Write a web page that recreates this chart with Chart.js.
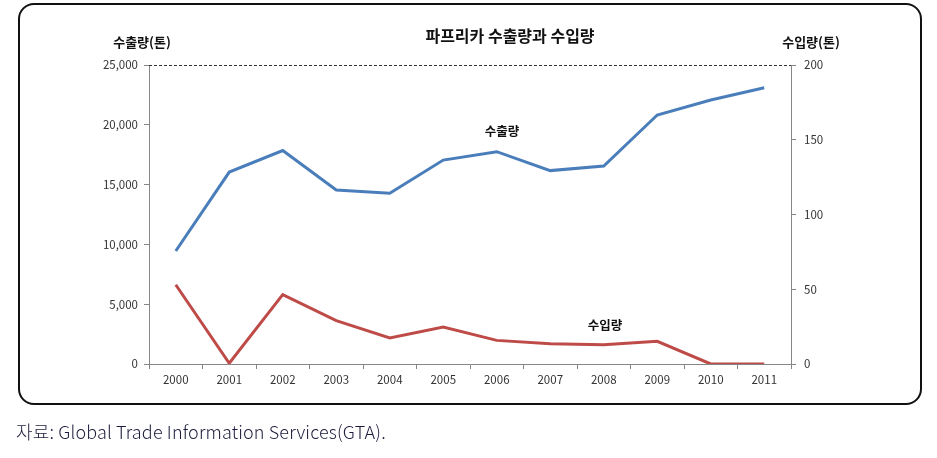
<!DOCTYPE html>
<html>
<head>
<meta charset="utf-8">
<script src="https://cdn.jsdelivr.net/npm/chart.js@4"></script>
<style>
  body { margin: 0; background: #fff; }
  #wrap { position: relative; width: 937px; height: 458px; }
  #box {
    position: absolute; left: 18px; top: 3px; width: 900px; height: 398px;
    border: 2px solid #111; border-radius: 16px;
  }
  #src {
    position: absolute; left: 16px; top: 418px;
    font-family: "Noto Sans CJK KR", sans-serif; font-size: 18px; color: #1c1c3c;
    font-weight: 300; letter-spacing: 0.15px;
  }
  canvas { position: absolute; left: 0; top: 0; }
</style>
</head>
<body>
<div id="wrap">
  <div id="box"></div>
  <canvas id="chart" width="937" height="458"></canvas>
  <div id="src">자료: Global Trade Information Services(GTA).</div>
</div>
<script>
const years = ['2000', '2001', '2002', '2003', '2004', '2005', '2006', '2007', '2008', '2009', '2010', '2011'];
// 수출량 (톤), left axis
const exportTons = [9450, 16050, 17850, 14550, 14270, 17050, 17750, 16170, 16550, 20820, 22070, 23100];
// 수입량 (톤), right axis
const importTons = [53, 0.5, 46.4, 29, 17.4, 24.7, 15.8, 13.6, 12.9, 15.2, 0, 0];
const leftTicks = [0, 5000, 10000, 15000, 20000, 25000];
const rightTicks = [0, 50, 100, 150, 200];

const font = '"Noto Sans CJK KR", sans-serif';

// title, axis titles, series labels and the dashed top line
const extras = {
  id: 'extras',
  afterDraw(chart) {
    const c = chart.ctx;
    const a = chart.chartArea;
    c.save();
    c.strokeStyle = '#333';
    c.lineWidth = 1;
    c.setLineDash([3, 2]);
    c.beginPath();
    c.moveTo(a.left, a.top + 0.5);
    c.lineTo(a.right, a.top + 0.5);
    c.stroke();
    c.setLineDash([]);

    c.fillStyle = '#111';
    c.textAlign = 'center';
    c.textBaseline = 'middle';
    c.font = 'bold 16px ' + font;
    c.fillText('파프리카 수출량과 수입량', 510, 36);
    c.font = 'bold 13px ' + font;
    c.fillText('수출량(톤)', 142, 42);
    c.fillText('수입량(톤)', 811, 42);
    c.font = 'bold 12.5px ' + font;
    c.fillText('수출량', 502, 131);
    c.fillText('수입량', 605, 325);
    c.restore();
  }
};

new Chart(document.getElementById('chart'), {
  type: 'line',
  data: {
    labels: years,
    datasets: [{
      label: '수출량',
      data: exportTons,
      yAxisID: 'y',
      borderColor: '#4a7ebb',
      borderWidth: 3,
      pointRadius: 0,
      tension: 0
    }, {
      label: '수입량',
      data: importTons,
      yAxisID: 'y1',
      borderColor: '#be4b48',
      borderWidth: 3,
      pointRadius: 0,
      tension: 0
    }]
  },
  options: {
    responsive: false,
    animation: false,
    layout: { padding: { top: 65, bottom: 62, left: 0, right: 0 } },
    plugins: { legend: { display: false }, tooltip: { enabled: false } },
    scales: {
      x: {
        offset: true,
        grid: { offset: true, drawOnChartArea: false, tickLength: 5, color: '#868686' },
        border: { color: '#868686' },
        ticks: { color: '#333', font: { family: font, size: 11.5 }, padding: 4 },
        afterFit: s => { s.height = 32; }
      },
      y: {
        position: 'left',
        min: 0, max: 25000,
        afterBuildTicks: s => { s.ticks = leftTicks.map(v => ({ value: v })); },
        grid: { drawOnChartArea: false, tickLength: 5, color: '#868686' },
        border: { color: '#868686' },
        ticks: {
          color: '#333', font: { family: font, size: 11.5 }, padding: 6,
          callback: v => v.toLocaleString('en-US')
        },
        afterFit: s => { s.width = 149; }
      },
      y1: {
        position: 'right',
        min: 0, max: 200,
        afterBuildTicks: s => { s.ticks = rightTicks.map(v => ({ value: v })); },
        grid: { drawOnChartArea: false, tickLength: 5, color: '#868686' },
        border: { color: '#868686' },
        ticks: { color: '#333', font: { family: font, size: 11.5 }, padding: 8 },
        afterFit: s => { s.width = 146; }
      }
    }
  },
  plugins: [extras]
});
</script>
</body>
</html>
